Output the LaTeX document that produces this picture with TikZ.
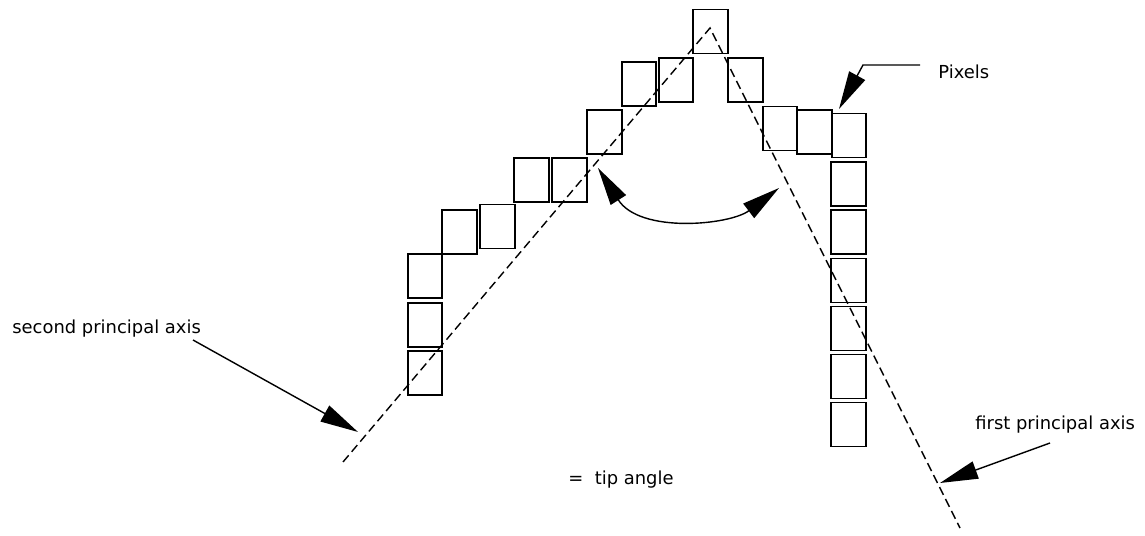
\documentclass[tikz,border=0pt]{standalone}
\usepackage{fontspec}
\setmainfont{DejaVu Sans}
\usepackage{tikz}
\usetikzlibrary{arrows.meta,positioning}
\definecolor{TInk}{HTML}{000000}

\begin{document}
\begin{tikzpicture}[x=0.02cm,y=-0.02cm,
  every node/.style={font=\fontsize{10.2}{12}\selectfont,text=TInk},
  pix/.style={draw=TInk,line width=1pt,minimum width=0.69cm,
              minimum height=0.88cm,inner sep=0pt},
  axisline/.style={draw=TInk,line width=0.8pt,dash pattern=on 5pt off 2.6pt},
  lead/.style={draw=TInk,line width=0.8pt,
               -{Triangle[length=0.76cm,width=0.36cm]}}]
  \useasboundingbox (0,0) rectangle (1145,536);
  % pixels along the tip
  \foreach \n/\x/\y in {1/710.5/31.5, 2/676/80, 3/639/84, 4/604.5/132,
      5/569.5/180, 6/531.5/180, 7/497.5/226.5, 8/459.5/232, 9/425/276,
      10/425/325, 11/425/373, 12/745.5/80, 13/780/128.5, 14/814.5/132,
      15/849/135.5, 16/848.5/184, 17/848.5/232, 18/848.5/280.5,
      19/848.5/328.5, 20/848.5/376.5, 21/848.5/424.5}
    \node[pix] (p\n) at (\x,\y) {};

  % principal axes
  \coordinate (apex) at (710,28);
  \coordinate (secend) at (343,462);
  \coordinate (firstend) at (960,528);
  \draw[axisline] (secend) -- (apex) -- (firstend);

  % labels
  \node[anchor=west,inner sep=0pt] (pixlabel) at (938,72) {Pixels};
  \node[anchor=west,inner sep=0pt] (seclabel) at (12,329) {second principal axis};
  \node[anchor=west,inner sep=0pt] (firstlabel) at (975,425) {first principal axis};
  \node[anchor=west,inner sep=0pt] (tiplabel) at (568,480) {=\ \ tip angle};

  % leaders
  \coordinate (pixbend) at (863,65);
  \coordinate (pixtip) at (839,109);
  \draw[lead] ([xshift=-18*0.02cm]pixlabel.west |- pixbend) -- (pixbend) -- (pixtip);
  \coordinate (sectail) at (193,340);
  \coordinate (sectip) at (358,432);
  \draw[lead] (sectail) -- (sectip);
  \coordinate (firsttail) at (1050,443);
  \coordinate (firsttip) at (940,483);
  \draw[lead] (firsttail) -- (firsttip);

  % tip angle
  \coordinate (angA) at (598,168);
  \coordinate (angB) at (779,188);
  \draw[lead,{Triangle[length=0.76cm,width=0.36cm]}-{Triangle[length=0.76cm,width=0.36cm]}]
    (angA) .. controls (640,234) and (730,225) .. (angB);
\end{tikzpicture}
\end{document}
